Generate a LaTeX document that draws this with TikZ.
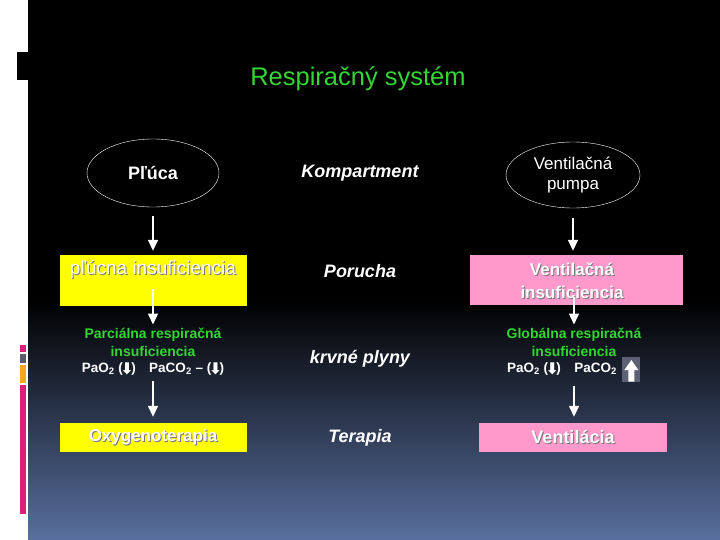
\documentclass[tikz,border=0pt]{standalone}
\usepackage{fontspec}
\setmainfont{Liberation Sans}
\newfontfamily\symfont{DejaVu Sans}
\usetikzlibrary{arrows.meta,shapes.geometric,positioning}
\definecolor{titlegreen}{RGB}{51,214,51}
\definecolor{boxyellow}{RGB}{255,255,0}
\definecolor{boxpink}{RGB}{255,153,204}
\definecolor{shadowgray}{RGB}{120,120,120}
\definecolor{barpink}{RGB}{222,30,120}
\definecolor{bargray}{RGB}{90,92,105}
\definecolor{barorange}{RGB}{245,168,30}
\definecolor{bottomblue}{RGB}{88,111,158}
\definecolor{upgray}{RGB}{92,98,115}
\newcommand{\shtxt}[1]{\makebox[0pt][l]{\kern1pt\raisebox{-1pt}{\color{shadowgray}#1}}#1}
\newcommand{\dnarr}{(\kern-2.5pt{\symfont\bfseries\fontsize{16}{16}\selectfont\raisebox{-1.5pt}{⬇}}\kern-2.5pt)}
\begin{document}
\begin{tikzpicture}[x=1pt,y=-1pt]
                \useasboundingbox (0,0) rectangle (720,540);
                % background
                \fill[white] (0,0) rectangle (720,540);
                \fill[black] (28,0) rectangle (720,301);
                \shade[top color=black,bottom color=bottomblue] (28,300) rectangle (720,540);
                \fill[black] (17,52) rectangle (28,80);
                \fill[barpink] (20,345) rectangle (26,352);
                \fill[bargray] (20,354) rectangle (26,363);
                \fill[barorange] (20,365) rectangle (26,383);
                \fill[barpink] (20,385) rectangle (26,514);
                % title
                \node[text=titlegreen,font=\fontsize{25.5}{30}\selectfont] (title) at (358,79) {Respiračný systém};
                % left column
                \node[shape=ellipse,draw=white,minimum width=132,minimum height=68,inner sep=0,text=white,font=\bfseries\fontsize{18}{21}\selectfont] (pluca) at (153,173) {Pľúca};
                \node[shape=rectangle,fill=boxyellow,minimum width=187,minimum height=51,inner sep=0] (plbox) at (153,280.5) {};
                \node[text=white,font=\fontsize{19}{22}\selectfont] (pltext) at (153,270) {\shtxt{pľúcna insuficiencia}};
                \node[text=titlegreen,align=center,inner sep=2pt,font=\bfseries\fontsize{14}{18}\selectfont] (parc) at (153,342) {Parciálna respiračná\\insuficiencia};
                \node[text=white,inner sep=2pt,font=\bfseries\fontsize{13.5}{16}\selectfont] (gas1) at (153,369) {PaO\textsubscript{2} \dnarr\quad PaCO\textsubscript{2} – \dnarr};
                \node[shape=rectangle,fill=boxyellow,minimum width=187,minimum height=29,inner sep=0,text=white,font=\bfseries\fontsize{17}{20}\selectfont] (oxbox) at (153,437.5) {\shtxt{Oxygenoterapia}};
                % middle column
                \node[text=white,font=\bfseries\itshape\fontsize{18}{21}\selectfont] (komp) at (360,173) {Kompartment};
                \node[text=white,font=\bfseries\itshape\fontsize{18}{21}\selectfont] (poru) at (360,271) {Porucha};
                \node[text=white,font=\bfseries\itshape\fontsize{18}{21}\selectfont] (krv) at (360,359) {krvné plyny};
                \node[text=white,font=\bfseries\itshape\fontsize{18}{21}\selectfont] (tera) at (360,438) {Terapia};
                % right column
                \node[shape=ellipse,draw=white,minimum width=134,minimum height=66,inner sep=0,text=white,align=center,font=\fontsize{17}{20}\selectfont] (pumpa) at (573,175) {Ventilačná\\pumpa};
                \node[shape=rectangle,fill=boxpink,minimum width=213,minimum height=50,inner sep=0] (vbox) at (576.5,280) {};
                \node[text=white,align=center,font=\bfseries\fontsize{17}{23}\selectfont] (vtext) at (572,281.5) {\shtxt{Ventilačná}\\\shtxt{insuficiencia}};
                \node[text=titlegreen,align=center,inner sep=2pt,font=\bfseries\fontsize{14}{18}\selectfont] (glob) at (574,342) {Globálna respiračná\\insuficiencia};
                \node[text=white,inner sep=2pt,font=\bfseries\fontsize{13.5}{16}\selectfont] (gas2) at (562,369) {PaO\textsubscript{2} \dnarr\quad PaCO\textsubscript{2}};
                \node[shape=rectangle,fill=upgray,minimum width=18,minimum height=25,inner sep=0,right=3pt of gas2] (upbox) {};
                \fill[white] ([shift={(0,-9)}]upbox.center) -- ([shift={(7,1)}]upbox.center) -- ([shift={(3,1)}]upbox.center) -- ([shift={(3,12.5)}]upbox.center) -- ([shift={(-3,12.5)}]upbox.center) -- ([shift={(-3,1)}]upbox.center) -- ([shift={(-7,1)}]upbox.center) -- cycle;
                \node[shape=rectangle,fill=boxpink,minimum width=188,minimum height=29,inner sep=0,text=white,font=\bfseries\fontsize{18}{21}\selectfont] (ventbox) at (573,437.5) {\shtxt{Ventilácia}};
                % arrows
                \path [-{Triangle[width=10pt,length=11pt]}] (pluca.south) edge[white,line width=1.5pt,shorten <=9pt,shorten >=4pt] (pluca.south |- plbox.north);
                \path [-{Triangle[width=10pt,length=11pt]}] ([yshift=-8.5pt]plbox.center) edge[white,line width=1.5pt,shorten >=1pt] (parc.north);
                \path [-{Triangle[width=10pt,length=11pt]}] (gas1.south) edge[white,line width=1.5pt,shorten <=3pt,shorten >=6pt] (gas1.south |- oxbox.north);
                \path [-{Triangle[width=10pt,length=11pt]}] (pumpa.south) edge[white,line width=1.5pt,shorten <=10pt,shorten >=4pt] (pumpa.south |- vbox.north);
                \path [-{Triangle[width=10pt,length=11pt]}] (glob.north |- vbox.south) edge[white,line width=1.5pt,shorten <=-8pt,shorten >=1pt] (glob.north);
                \path [-{Triangle[width=10pt,length=11pt]}] (glob.south |- upbox.south) edge[white,line width=1.5pt,shorten <=4pt,shorten >=6pt] (glob.south |- ventbox.north);
\end{tikzpicture}
\end{document}
